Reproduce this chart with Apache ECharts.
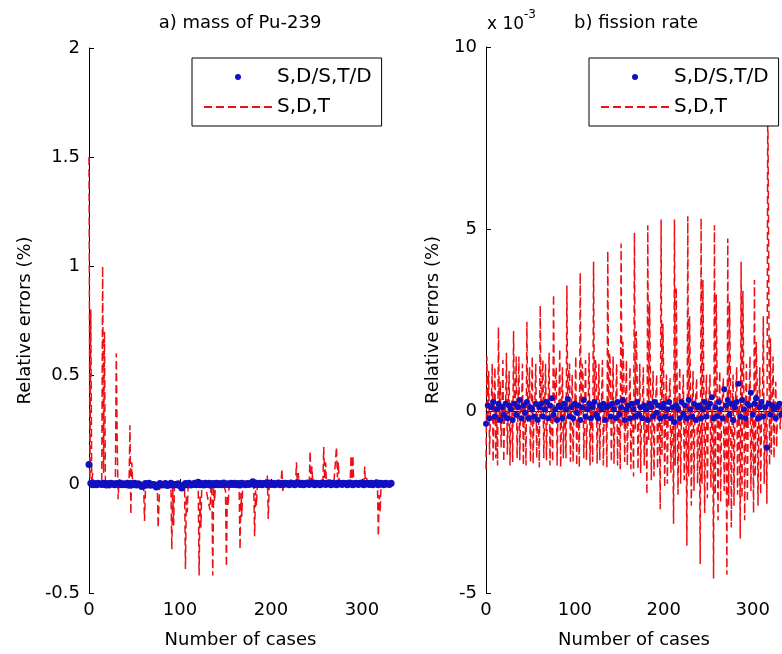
<!DOCTYPE html>
<html>
<head>
<meta charset="utf-8">
<script src="https://cdn.jsdelivr.net/npm/echarts@6/dist/echarts.min.js"></script>
<style>html,body{margin:0;padding:0;background:#fff}#c{width:782px;height:654px}</style>
</head>
<body>
<div id="c"></div>
<script>
// ---------- data ----------
const xTicks = [0, 100, 200, 300];
const seriesNames = ['S,D/S,T/D', 'S,D,T'];

// a) mass of Pu-239 : blue points, one every 2 cases (case 0,2,4,...,332)
const leftBlue = [
 0.09, 0.004,-0.003,0.002,-0.004,0.003,0.000,-0.002,0.004,-0.003,
 0.002,-0.005,0.003,0.001,-0.004,0.002,-0.002,0.005,-0.003,0.001,
 -0.004,0.003,-0.006,0.002,-0.003,0.004,-0.005,0.001,-0.004,-0.012,
 -0.008,0.002,-0.005,0.003,-0.006,-0.002,-0.004,-0.014,-0.006,0.002,
 -0.005,-0.003,0.002,-0.007,-0.004,0.003,-0.006,-0.002,-0.004,0.001,
 -0.008,-0.018,-0.006,0.002,-0.004,0.003,-0.005,-0.002,0.004,-0.003,
 0.008,-0.004,0.002,-0.005,0.003,-0.002,0.004,-0.006,0.002,-0.003,
 0.003,-0.004,0.002,-0.003,0.005,-0.002,0.001,-0.004,0.003,-0.002,
 0.004,-0.003,0.002,-0.005,0.003,0.001,-0.004,0.002,-0.002,0.004,
 0.010,-0.003,0.003,-0.002,0.004,-0.004,0.002,0.003,-0.003,0.005,
 -0.002,0.004,-0.003,0.002,0.005,-0.004,0.003,-0.002,0.004,0.002,
 -0.003,0.005,0.002,-0.004,0.003,0.006,-0.002,0.004,-0.003,0.002,
 0.005,-0.002,0.003,0.006,-0.003,0.004,0.002,-0.004,0.005,0.003,
 -0.002,0.004,0.006,-0.003,0.003,0.002,-0.004,0.005,0.003,-0.002,
 0.004,0.002,-0.003,0.005,0.003,-0.004,0.002,0.004,-0.002,0.003,
 0.005,-0.003,0.002,0.004,-0.002,0.003,-0.004,0.002,0.006,-0.003,
 0.004,0.002,-0.003,0.003,0.001,-0.002,0.003
];

// a) mass of Pu-239 : red dashed line, [case, value]
const leftRed = [
 [0,1.5],[1,0.02],[2,0.8],[3,0.0],[4,0.05],[5,-0.01],[8,0.01],[11,-0.01],
 [14,0.0],[15,1.0],[16,0.05],[17,0.7],[18,0.02],[19,-0.02],[22,0.01],[26,-0.01],
 [29,0.0],[30,0.6],[31,0.2],[32,-0.07],[33,0.02],[37,-0.01],[41,0.01],
 [44,0.0],[45,0.27],[46,-0.14],[47,0.1],[48,0.0],[52,-0.01],[56,0.0],
 [60,0.0],[61,-0.17],[62,-0.03],[63,0.0],[67,-0.01],[71,0.0],
 [75,0.0],[76,-0.2],[77,-0.08],[78,0.0],[82,-0.01],[86,0.0],
 [90,0.0],[91,-0.3],[92,-0.02],[93,-0.19],[94,0.0],[98,-0.01],[102,0.0],
 [105,0.0],[106,-0.39],[107,-0.05],[108,-0.13],[109,0.0],[113,-0.01],[117,0.0],
 [120,-0.01],[121,-0.42],[122,-0.05],[123,-0.2],[124,0.0],[128,-0.01],
 [133,-0.12],[134,-0.02],[135,0.0],[136,-0.42],[137,-0.02],[138,-0.08],[139,0.0],[143,-0.01],[147,0.0],
 [150,-0.03],[151,-0.38],[152,-0.05],[153,-0.1],[154,0.0],[158,-0.01],[162,0.0],
 [165,-0.02],[166,-0.3],[167,-0.04],[168,-0.15],[169,0.0],[173,-0.01],[177,0.0],
 [181,0.0],[182,-0.24],[183,-0.03],[184,-0.1],[185,0.0],[189,0.01],[193,0.0],
 [196,0.04],[197,-0.16],[198,-0.02],[199,0.0],[203,0.01],[207,0.0],
 [211,0.0],[212,0.07],[213,-0.04],[214,0.02],[215,0.0],[219,0.01],[223,0.0],
 [227,0.0],[228,0.1],[229,-0.01],[230,0.05],[231,0.0],[235,0.01],[239,0.0],
 [242,0.0],[243,0.15],[244,0.01],[245,0.08],[246,0.0],[250,0.01],[254,0.0],
 [257,0.0],[258,0.17],[259,0.02],[260,0.1],[261,0.0],[265,0.01],[269,0.0],
 [271,0.0],[272,0.17],[273,0.03],[274,0.1],[275,0.0],[280,0.01],[284,0.0],
 [287,0.0],[288,0.13],[289,0.02],[290,0.13],[291,0.0],[295,0.01],[299,0.0],
 [302,0.0],[303,0.08],[304,-0.01],[305,0.03],[306,0.0],[310,0.01],[314,0.0],
 [317,0.0],[318,-0.24],[319,-0.05],[320,-0.13],[321,0.0],[325,0.01],[329,0.0],[333,0.0]
];

// b) fission rate (x 10^-3) : blue points, one every 2 cases
const rightBlue = [
 -0.35, 0.15,-0.2,0.1,0.25,-0.15,0.05,0.2,-0.25,0.1,
 -0.1,0.2,-0.2,0.15,0.05,-0.25,0.2,-0.1,0.1,0.3,
 -0.2,0.15,-0.05,0.25,-0.2,0.1,0.05,-0.15,0.2,-0.25,
 0.1,0.2,-0.15,0.05,0.25,-0.2,0.15,0.35,-0.1,0.05,
 -0.25,0.15,0.1,-0.2,0.2,0.05,0.33,-0.15,0.1,-0.2,
 0.2,-0.05,0.15,-0.25,0.1,0.3,-0.15,0.05,0.2,-0.2,
 0.1,0.25,-0.1,-0.2,0.15,0.05,0.2,-0.25,0.1,0.15,
 -0.15,0.2,0.05,-0.2,0.25,-0.1,0.1,0.3,-0.25,0.05,
 0.15,-0.2,0.2,0.05,-0.15,0.25,-0.1,0.1,-0.2,0.15,
 0.05,-0.25,0.2,0.1,-0.15,0.25,-0.05,0.15,-0.2,0.1,
 0.2,-0.15,0.05,0.25,-0.2,0.1,-0.3,0.15,0.05,-0.2,
 0.25,-0.1,0.15,-0.2,0.3,0.05,-0.15,0.2,-0.25,0.1,
 0.15,-0.2,0.05,0.25,-0.15,0.1,0.2,0.38,-0.2,0.1,
 -0.15,0.25,0.05,-0.2,0.6,0.15,0.3,-0.1,0.2,-0.25,
 0.1,0.25,0.75,-0.15,0.3,0.05,-0.2,0.2,0.15,0.5,
 -0.1,0.2,0.35,-0.2,0.1,0.25,-0.15,0.1,-1.0,0.2,
 -0.1,0.15,0.05,-0.2,0.1,0.2,-0.1
];

// b) fission rate (x 10^-3) : red dashed line, one value per case 0..333
const rightRed = [
 -1.6,1.5,-0.3,1.1,-1.2,0.1,0.2,1.3,-1.4,0.0,1.2,-1.3,0.1,-1.5,2.3,
 -0.2,0.8,-1.0,0.1,1.4,-1.4,0.2,0.0,1.6,-1.2,0.1,1.1,-1.5,0.2,0.3,
 -1.4,2.2,-0.2,0.3,1.5,-1.3,0.1,1.5,-1.35,0.2,0.0,1.3,-1.5,0.1,0.2,
 -1.5,2.45,-0.3,0.4,1.2,-1.4,0.0,1.5,-1.45,0.1,0.3,1.3,-1.3,0.1,0.0,
 -1.55,2.9,-0.2,0.6,1.4,-1.3,0.1,1.3,-1.35,0.0,0.2,1.6,-1.5,0.1,0.0,
 -1.4,3.2,-0.3,0.8,1.2,-1.5,0.1,0.2,1.7,-1.55,0.0,1.2,-1.3,0.1,0.0,
 -1.3,3.45,-0.2,1.0,1.3,-1.4,0.0,1.0,-1.4,0.1,0.2,1.5,-1.5,0.1,0.0,
 -1.55,3.8,-0.3,1.3,1.1,-1.3,0.1,1.4,-1.35,0.0,0.2,1.6,-1.5,0.1,0.0,
 -1.4,4.1,-0.2,1.4,1.2,-1.45,0.1,1.3,-1.35,0.0,0.3,1.4,-1.5,0.1,0.0,
 0.1,-1.55,4.4,-0.3,1.6,1.2,-1.4,0.0,1.5,-1.45,0.1,0.2,1.3,-1.5,0.0,
 0.1,-1.6,4.6,-0.4,1.9,1.1,-1.4,0.1,1.4,-1.5,0.0,0.2,1.2,-1.6,0.0,
 0.1,-1.8,4.9,-0.5,2.2,1.0,-1.6,0.1,1.3,-1.7,0.0,0.2,1.2,-1.5,0.0,
 0.1,-2.3,5.1,-0.8,3.0,0.9,-1.9,0.1,1.1,-1.8,0.0,0.3,1.0,-1.6,0.0,
 0.1,-2.7,5.26,-1.2,2.4,0.8,-2.1,0.1,1.0,-2.0,0.0,0.4,0.9,-1.7,0.0,
 0.1,-3.1,5.26,-1.5,3.4,0.8,-2.3,0.0,1.2,-2.0,0.1,0.3,1.0,-1.9,0.0,
 0.1,-3.7,5.35,-1.8,2.6,0.7,-2.6,0.1,1.1,-2.2,0.0,0.4,0.9,-2.0,0.0,
 0.1,-4.2,5.3,-2.0,3.6,0.8,-2.8,0.1,1.0,-2.4,0.0,0.5,1.0,-2.1,0.0,
 0.1,-4.6,5.1,-2.3,3.2,0.7,-3.0,0.1,1.1,-2.5,0.0,0.4,0.9,-2.2,0.0,
 0.1,-4.5,4.74,-2.6,3.0,0.8,-3.2,0.1,1.0,-2.6,0.0,0.5,1.2,-2.3,0.0,
 0.2,-3.5,4.1,-2.4,3.3,0.7,-3.0,0.1,1.3,-2.5,0.0,0.4,1.5,-2.2,0.0,
 0.1,-2.8,3.6,-1.8,1.9,0.8,-2.6,0.1,1.2,-2.3,0.0,0.3,2.6,-2.0,0.0,
 0.1,-2.55,9.0,4.2,-1.5,2.0,-1.2,0.1,1.5,-1.3,0.0,0.8,-1.0,0.1,0.0,
 0.1,-0.5,0.2,0.0
];

// ---------- build ----------
const FONT = 'DejaVu Sans';
const RED = '#ee0f14';
const BLUE = '#1010c0';

const blueLeftPts = leftBlue.map((v, i) => [i * 2, v]);
const blueRightPts = rightBlue.map((v, i) => [i * 2, v]);
const redRightPts = rightRed.map((v, i) => [i, v]);

function xAxis(gridIndex) {
  return {
    type: 'value', gridIndex, min: 0, max: 333, interval: 100,
    name: 'Number of cases', nameLocation: 'middle', nameGap: 38,
    nameTextStyle: { fontFamily: FONT, fontSize: 18, color: '#000' },
    axisLine: { show: true, lineStyle: { color: '#000', width: 1 } },
    axisTick: { show: true, inside: true, length: 5, lineStyle: { color: '#000' }, customValues: xTicks },
    axisLabel: { fontFamily: FONT, fontSize: 18, color: '#000', margin: 8, customValues: xTicks },
    splitLine: { show: false }
  };
}
function yAxis(gridIndex, min, max, interval, gap) {
  return {
    type: 'value', gridIndex, min, max, interval,
    name: 'Relative errors (%)', nameLocation: 'middle', nameGap: gap,
    nameTextStyle: { fontFamily: FONT, fontSize: 18, color: '#000' },
    axisLine: { show: true, lineStyle: { color: '#000', width: 1 } },
    axisTick: { show: true, inside: true, length: 5, lineStyle: { color: '#000' } },
    axisLabel: { fontFamily: FONT, fontSize: 18, color: '#000', margin: 9 },
    splitLine: { show: false }
  };
}
function legend(left) {
  return {
    left, top: 58, orient: 'vertical',
    data: [
      { name: seriesNames[0], icon: 'circle' },
      { name: seriesNames[1], itemStyle: { opacity: 0 } }
    ],
    itemWidth: 68, itemHeight: 6, itemGap: 10,
    padding: [9, 10, 9, 11],
    borderColor: '#000', borderWidth: 1, borderRadius: 0, backgroundColor: '#fff',
    textStyle: { fontFamily: FONT, fontSize: 20, color: '#000' },
    selectedMode: false, z: 10
  };
}
function redLine(idx, data) {
  return {
    name: seriesNames[1], type: 'line', xAxisIndex: idx, yAxisIndex: idx, data,
    showSymbol: false, symbol: 'none', z: 2,
    lineStyle: { color: RED, width: 1.5, type: [8, 4], opacity: 1 },
    itemStyle: { color: RED }
  };
}
function bluePts(idx, data, size) {
  return {
    name: seriesNames[0], type: 'scatter', xAxisIndex: idx, yAxisIndex: idx, data,
    symbol: 'circle', symbolSize: size, z: 3,
    itemStyle: { color: BLUE, opacity: 1 }
  };
}

const option = {
  backgroundColor: '#fff',
  animation: false,
  title: [
    { text: 'a) mass of Pu-239', left: 240, top: 14, textAlign: 'center', padding: 0,
      textStyle: { fontFamily: FONT, fontSize: 18, fontWeight: 'normal', color: '#000' } },
    { text: 'b) fission rate', left: 636, top: 14, textAlign: 'center', padding: 0,
      textStyle: { fontFamily: FONT, fontSize: 18, fontWeight: 'normal', color: '#000' } }
  ],
  legend: [legend(192), legend(589)],
  grid: [
    { left: 89, top: 48, width: 303, height: 548 },
    { left: 486, top: 47, width: 304, height: 550 }
  ],
  xAxis: [xAxis(0), xAxis(1)],
  yAxis: [yAxis(0, -0.5, 2, 0.5, 55), yAxis(1, -5, 10, 5, 44)],
  graphic: [
    { type: 'text', left: 487, top: 16, style: { text: 'x 10', font: '17px "DejaVu Sans"', fill: '#000' } },
    { type: 'text', left: 524, top: 9, style: { text: '-3', font: '12px "DejaVu Sans"', fill: '#000' } }
  ],
  series: [
    redLine(0, leftRed),
    bluePts(0, blueLeftPts, 7),
    redLine(1, redRightPts),
    bluePts(1, blueRightPts, 6)
  ]
};

const chart = echarts.init(document.getElementById('c'), null, { renderer: 'canvas' });
chart.setOption(option);
</script>
</body>
</html>
